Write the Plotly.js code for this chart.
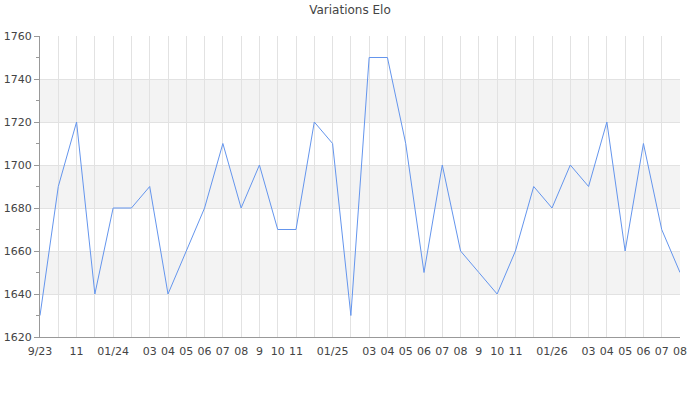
<!DOCTYPE html>
<html>
<head>
<meta charset="utf-8">
<script src="https://cdn.plot.ly/plotly-3.0.1.min.js"></script>
<style>
  body { margin: 0; }
  #plot { width: 700px; height: 400px; }
</style>
</head>
<body>
<div id="plot"></div>
<script>
// mois, de 09/2023 a 08/2026
const months = [
    "2023-09","2023-10","2023-11","2023-12","2024-01","2024-02","2024-03","2024-04","2024-05",
    "2024-06","2024-07","2024-08","2024-09","2024-10","2024-11","2024-12","2025-01","2025-02",
    "2025-03","2025-04","2025-05","2025-06","2025-07","2025-08","2025-09","2025-10","2025-11",
    "2025-12","2026-01","2026-02","2026-03","2026-04","2026-05","2026-06","2026-07","2026-08"
];
const elo = [
    1630, 1690, 1720, 1640, 1680, 1680, 1690, 1640, 1660,
    1680, 1710, 1680, 1700, 1670, 1670, 1720, 1710, 1630,
    1750, 1750, 1710, 1650, 1700, 1660, 1650, 1640, 1660,
    1690, 1680, 1700, 1690, 1720, 1660, 1710, 1670, 1650
];
const tickLabels = [
    "9/23","","11","","01/24","","03","04","05",
    "06","07","08","9","10","11","","01/25","",
    "03","04","05","06","07","08","9","10","11",
    "","01/26","","03","04","05","06","07","08"
];
const yMin = 1620, yMax = 1760, yStep = 20;

let idx = months.map((m, i) => i);

// bandes grises alternees
let bands = [];
for (let y = yMin + yStep; y < yMax; y += 2 * yStep) {
    bands.push({
        type: 'rect', xref: 'paper', yref: 'y', layer: 'below',
        x0: 0, x1: 1, y0: y, y1: y + yStep,
        fillcolor: '#f3f3f3', line: {width: 0}
    });
}

Plotly.newPlot('plot', [{
    x: idx,
    y: elo,
    text: months,
    mode: 'lines',
    line: {color: '#6495ed', width: 1},
    hoverinfo: 'text+y'
}], {
    width: 700, height: 400,
    margin: {l: 40, r: 20, t: 36, b: 63},
    paper_bgcolor: '#fff',
    plot_bgcolor: 'rgba(0,0,0,0)',
    font: {family: 'DejaVu Sans', size: 11, color: '#444'},
    title: {text: 'Variations Elo', font: {size: 12, color: '#444'}, x: 0.5, xanchor: 'center', y: 0.985, yanchor: 'top'},
    showlegend: false,
    shapes: bands,
    xaxis: {
        range: [0, idx.length - 1],
        tickvals: idx,
        ticktext: tickLabels,
        showgrid: true, gridcolor: '#e2e2e2', gridwidth: 1,
        showline: true, linecolor: '#999', linewidth: 1,
        ticks: 'outside', ticklen: 4, tickcolor: 'rgba(0,0,0,0)',
        zeroline: false,
        tickfont: {size: 11, color: '#444'}
    },
    yaxis: {
        range: [yMin, yMax],
        dtick: yStep,
        showgrid: true, gridcolor: '#e2e2e2', gridwidth: 1,
        showline: true, linecolor: '#999', linewidth: 1,
        ticks: 'outside', ticklen: 5, tickcolor: '#999',
        minor: {dtick: yStep / 2, ticks: 'outside', ticklen: 3, tickcolor: '#999', showgrid: false},
        zeroline: false,
        tickfont: {size: 11, color: '#444'}
    }
}, {staticPlot: true});
</script>
</body>
</html>
